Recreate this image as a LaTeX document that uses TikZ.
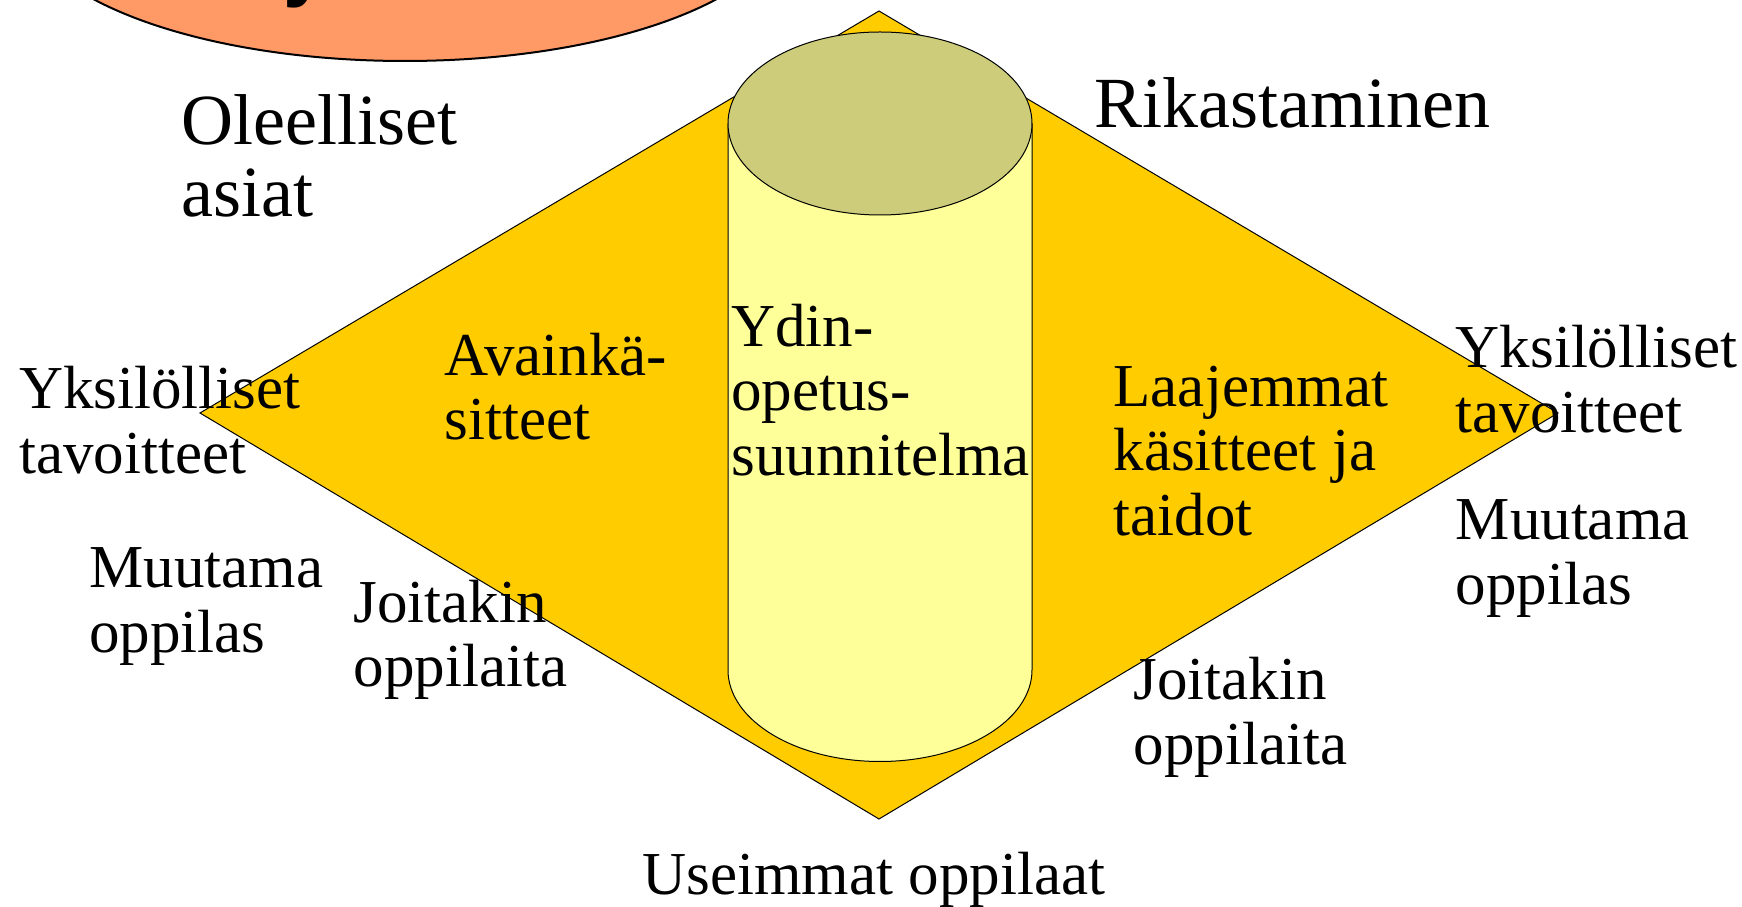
\documentclass[tikz,border=0pt]{standalone}
\usepackage{fontspec}
\setmainfont{Liberation Serif}
\newfontfamily\headsans{Liberation Sans}
\definecolor{diamondfill}{HTML}{FFCC00}
\definecolor{canbody}{HTML}{FFFF99}
\definecolor{cantop}{HTML}{CCCC7A}
\definecolor{ovalfill}{HTML}{FF9966}
\tikzset{
  lbl/.style={anchor=base west, inner sep=0pt, align=left, font=\fontsize{30.5}{32.2}\selectfont},
  biglbl/.style={anchor=base west, inner sep=0pt, align=left, font=\fontsize{36}{36.2}\selectfont},
  thinline/.style={draw=black, line width=0.5pt, line join=miter},
}
\begin{document}
\begin{tikzpicture}[x=0.5pt,y=0.5pt]
\useasboundingbox (0,0) rectangle (1742,906);
% orange oval at top (mostly cut off)
\draw[fill=ovalfill, line width=1pt] (405,995) ellipse [x radius=385, y radius=150];
\node[anchor=base west, inner sep=0pt, font=\headsans\bfseries\fontsize{40}{40}\selectfont] (heady) at (283,914) {y};
% diamond
\coordinate (dt) at (879,895);
\coordinate (dl) at (200,493);
\coordinate (db) at (879,87);
\coordinate (dr) at (1558,493);
\fill[diamondfill] (dt) -- (dr) -- (db) -- (dl) -- cycle;
\draw[thinline] (dt) -- (dr) -- (db) -- (dl) -- cycle;
% cylinder
\fill[canbody] (728,782.5) -- (728,236) arc[start angle=180, end angle=360, x radius=152, y radius=91.5] -- (1032,782.5) -- cycle;
\draw[thinline] (728,782.5) -- (728,236) arc[start angle=180, end angle=360, x radius=152, y radius=91.5] -- (1032,782.5);
\draw[thinline, fill=cantop] (880,782.5) ellipse [x radius=152, y radius=91.5];
% labels (base anchor = baseline of last line)
\node[biglbl] (olee) at (181,689.2) {Oleelliset\\asiat};
\node[biglbl] (rika) at (1094.3,778.2) {Rikastaminen};
\node[lbl] (yksL) at (18.9,432.8) {Yksilölliset\\tavoitteet};
\node[lbl] (muuL) at (88.9,253.9) {Muutama\\oppilas};
\node[lbl] (avain) at (444.4,466.1) {Avainkä-\\sitteet};
\node[lbl] (ydin) at (731,430.6) {Ydin-\\opetus-\\suunnitelma};
\node[lbl] (joiL) at (353.3,219.4) {Joitakin\\oppilaita};
\node[lbl] (laaj) at (1113.2,370.6) {Laajemmat\\käsitteet ja\\taidot};
\node[lbl] (yksR) at (1455.4,473.9) {Yksilölliset\\tavoitteet};
\node[lbl] (muuR) at (1455.4,301.6) {Muutama\\oppilas};
\node[lbl] (joiR) at (1133.2,141.6) {Joitakin\\oppilaita};
\node[lbl] (usei) at (642.2,11.6) {Useimmat oppilaat};
\end{tikzpicture}
\end{document}
